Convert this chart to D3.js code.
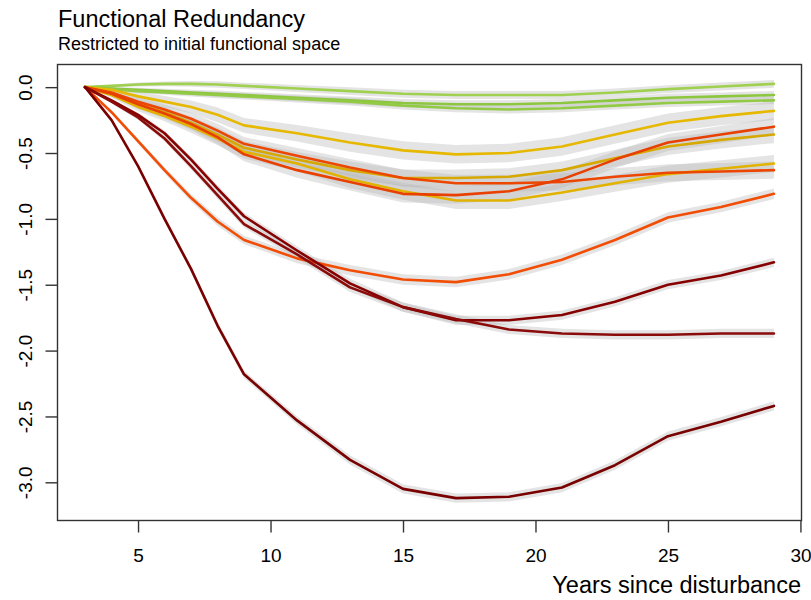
<!DOCTYPE html>
<html>
<head>
<meta charset="utf-8">
<script src="https://cdn.jsdelivr.net/npm/d3@7"></script>
<style>
  html, body { margin: 0; padding: 0; background: #fff; }
  svg { display: block; font-family: "Liberation Sans", Arial, sans-serif; }
</style>
</head>
<body>
<svg id="chart" width="811" height="600"></svg>
<script>
// ---------- data ----------
const years = [3, 4, 5, 6, 7, 8, 9, 11, 13, 15, 17, 19, 21, 23, 25, 27, 29];

const green1 = [0, 0.01, 0.02, 0.025, 0.025, 0.02, 0.01, -0.01, -0.03, -0.05, -0.06, -0.06, -0.06, -0.04, -0.015, 0.005, 0.025];
const green2 = [0, -0.01, -0.02, -0.03, -0.04, -0.05, -0.06, -0.08, -0.10, -0.12, -0.13, -0.13, -0.12, -0.10, -0.08, -0.07, -0.06];
const green3 = [0, -0.015, -0.03, -0.04, -0.05, -0.06, -0.07, -0.09, -0.11, -0.14, -0.16, -0.17, -0.16, -0.14, -0.12, -0.11, -0.10];
const yellow1 = [0, -0.02, -0.07, -0.11, -0.15, -0.21, -0.29, -0.35, -0.42, -0.48, -0.51, -0.50, -0.45, -0.36, -0.27, -0.22, -0.18];
const yellow2 = [0, -0.05, -0.13, -0.19, -0.27, -0.36, -0.46, -0.55, -0.63, -0.69, -0.69, -0.68, -0.63, -0.54, -0.45, -0.40, -0.36];
const yellow3 = [0, -0.06, -0.15, -0.22, -0.30, -0.39, -0.49, -0.58, -0.70, -0.79, -0.86, -0.86, -0.80, -0.73, -0.66, -0.62, -0.58];
const orange1 = [0, -0.04, -0.11, -0.17, -0.24, -0.33, -0.43, -0.52, -0.61, -0.69, -0.73, -0.73, -0.72, -0.68, -0.65, -0.64, -0.63];
const orange2 = [0, -0.05, -0.13, -0.20, -0.28, -0.38, -0.51, -0.63, -0.72, -0.81, -0.82, -0.79, -0.70, -0.55, -0.42, -0.36, -0.30];
const orange3 = [0, -0.19, -0.41, -0.63, -0.84, -1.02, -1.16, -1.30, -1.39, -1.46, -1.48, -1.42, -1.31, -1.16, -0.99, -0.91, -0.81];
const darkred1 = [0, -0.10, -0.21, -0.35, -0.55, -0.77, -0.98, -1.24, -1.49, -1.67, -1.77, -1.77, -1.73, -1.63, -1.50, -1.43, -1.33];
const darkred2 = [0, -0.11, -0.23, -0.39, -0.60, -0.82, -1.04, -1.27, -1.52, -1.67, -1.76, -1.84, -1.87, -1.88, -1.88, -1.87, -1.87];
const darkred3 = [0, -0.25, -0.60, -1.00, -1.38, -1.81, -2.18, -2.53, -2.83, -3.05, -3.12, -3.11, -3.04, -2.87, -2.65, -2.54, -2.42];

// estimated half-width of the grey uncertainty bands
const bandByYear = [0, 0.015, 0.025, 0.03, 0.035, 0.04, 0.04, 0.045, 0.05, 0.05, 0.05, 0.05, 0.05, 0.05, 0.05, 0.05, 0.05];

const seriesNames = ["green1", "green2", "green3", "yellow1", "yellow2", "yellow3",
                     "orange1", "orange2", "orange3", "darkred1", "darkred2", "darkred3"];
const seriesValues = [green1, green2, green3, yellow1, yellow2, yellow3,
                      orange1, orange2, orange3, darkred1, darkred2, darkred3];
const seriesColors = ["#9fd04f", "#8dc63f", "#93ca45", "#e6b800", "#d6a800", "#e2b200",
                      "#ec4600", "#e84000", "#f24d05", "#870000", "#8b0a0a", "#780000"];
const bandScale = [0.6, 0.6, 0.6, 1.4, 1.3, 1.3, 1.3, 1.3, 0.8, 0.7, 0.7, 0.7];

const xTicks = [5, 10, 15, 20, 25, 30];
const yTicks = [0, -0.5, -1, -1.5, -2, -2.5, -3];
const yTickLabels = ["0.0", "-0.5", "-1.0", "-1.5", "-2.0", "-2.5", "-3.0"];

const titleText = "Functional Redundancy";
const subtitleText = "Restricted to initial functional space";
const xLabelText = "Years since disturbance";

// ---------- layout ----------
const plot = { left: 57.5, right: 801.5, top: 64.5, bottom: 520.5 };

const x = d3.scaleLinear().domain([1.96, 30.04]).range([plot.left, plot.right]);
const y = d3.scaleLinear().domain([-3.29, 0.172]).range([plot.bottom, plot.top]);

const svg = d3.select("#chart");

// bands
const area = d3.area()
  .x((d) => x(d.year))
  .y0((d) => y(d.value - d.half))
  .y1((d) => y(d.value + d.half));

const line = d3.line()
  .x((d) => x(d.year))
  .y((d) => y(d.value));

const data = seriesNames.map((name, i) => ({
  name,
  color: seriesColors[i],
  points: years.map((yr, j) => ({ year: yr, value: seriesValues[i][j], half: bandByYear[j] * bandScale[i] }))
}));

const plotG = svg.append("g");

plotG.selectAll("path.band")
  .data(data)
  .enter().append("path")
  .attr("class", "band")
  .attr("d", (d) => area(d.points))
  .attr("fill", "#b8b8b8")
  .attr("fill-opacity", 0.38)
  .attr("stroke", "none");

plotG.selectAll("path.series")
  .data(data)
  .enter().append("path")
  .attr("class", "series")
  .attr("d", (d) => line(d.points))
  .attr("fill", "none")
  .attr("stroke", (d) => d.color)
  .attr("stroke-width", 2.6)
  .attr("stroke-linejoin", "round")
  .attr("stroke-linecap", "round");

// box
svg.append("rect")
  .attr("x", plot.left).attr("y", plot.top)
  .attr("width", plot.right - plot.left)
  .attr("height", plot.bottom - plot.top)
  .attr("fill", "none")
  .attr("stroke", "#333")
  .attr("stroke-width", 1.4);

// x axis
const xAxis = d3.axisBottom(x).tickValues(xTicks).tickSize(12).tickPadding(16).tickFormat(d3.format("d"));
const gx = svg.append("g").attr("transform", `translate(0,${plot.bottom})`).call(xAxis);
gx.select(".domain").remove();
gx.selectAll(".tick line").attr("stroke", "#333").attr("stroke-width", 1.4);
gx.selectAll(".tick text")
  .attr("font-size", 19)
  .attr("font-family", "Liberation Sans, Arial, sans-serif")
  .attr("fill", "#000");

// y axis
const yAxis = d3.axisLeft(y).tickValues(yTicks).tickSize(12).tickFormat((d, i) => yTickLabels[i]);
const gy = svg.append("g").attr("transform", `translate(${plot.left},0)`).call(yAxis);
gy.select(".domain").remove();
gy.selectAll(".tick line").attr("stroke", "#333").attr("stroke-width", 1.4);
gy.selectAll(".tick text")
  .attr("font-size", 19)
  .attr("font-family", "Liberation Sans, Arial, sans-serif")
  .attr("fill", "#000")
  .attr("x", null).attr("dy", null)
  .attr("text-anchor", "middle")
  .attr("transform", "translate(-26,0) rotate(-90)");

// titles
svg.append("text")
  .attr("x", 58).attr("y", 27)
  .attr("font-size", 23.5)
  .attr("fill", "#000")
  .text(titleText);

svg.append("text")
  .attr("x", 58).attr("y", 50)
  .attr("font-size", 18)
  .attr("fill", "#000")
  .text(subtitleText);

svg.append("text")
  .attr("x", 801).attr("y", 593)
  .attr("text-anchor", "end")
  .attr("font-size", 23.5)
  .attr("fill", "#000")
  .text(xLabelText);
</script>
</body>
</html>
